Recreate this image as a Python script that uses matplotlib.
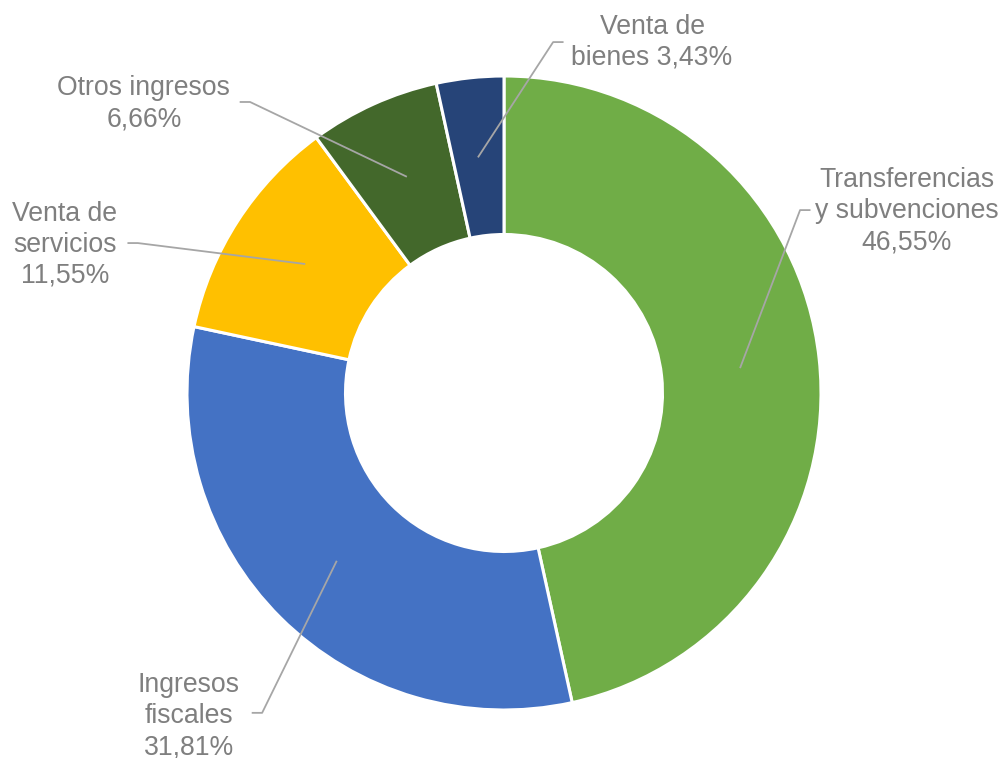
import numpy as np
import matplotlib.pyplot as plt

# data (clockwise from 12 o'clock)
categorias = ['Transferencias\ny subvenciones', 'Ingresos\nfiscales',
              'Venta de\nservicios', 'Otros ingresos', 'Venta de\nbienes']
porcentajes = [46.55, 31.81, 11.55, 6.66, 3.43]
colores = ['#70AD47', '#4472C4', '#FFC000', '#43682B', '#264478']

# label layout (radius units): text centre, elbow of leader line
pos_texto = [(1.271, 0.574), (-0.994, -1.019), (-1.385, 0.467), (-1.136, 0.912), (0.467, 1.107)]
pos_codo = [(0.934, 0.577), (-0.763, -1.009), (-1.155, 0.473), (-0.801, 0.918), (0.155, 1.107)]
sep = ['\n', '\n', '\n', '\n', ' ']

plt.rcParams['font.family'] = ['Liberation Sans', 'DejaVu Sans']

fig = plt.figure(figsize=(10.03, 7.58), dpi=100)
ax = fig.add_axes([0, 0, 1, 1])

wedges, _ = ax.pie(porcentajes, colors=colores, startangle=90, counterclock=False,
                   radius=1, wedgeprops=dict(width=0.5, edgecolor='white', linewidth=2.2))

total = sum(porcentajes)
acum = 0
for i, v in enumerate(porcentajes):
    ang = np.deg2rad(90 - 360 * (acum + v / 2) / total)
    acum += v
    x0, y0 = 0.75 * np.cos(ang), 0.75 * np.sin(ang)
    cx, cy = pos_codo[i]
    tx, ty = pos_texto[i]
    dx = 0.03 if tx > cx else -0.03
    ax.plot([x0, cx, cx + dx], [y0, cy, cy], color='#A6A6A6', lw=1.3, zorder=3)
    txt = categorias[i] + sep[i] + f'{v:.2f}'.replace('.', ',') + '%'
    ax.text(tx, ty, txt, ha='center', va='center', fontsize=19.2, color='#7F7F7F',
            linespacing=1.25)

ax.set_xlim(-504 / 317, (1003 - 504) / 317)
ax.set_ylim((393 - 758) / 317, 393 / 317)
ax.set_aspect('auto')
ax.axis('off')

plt.savefig('out.png', dpi=100)
